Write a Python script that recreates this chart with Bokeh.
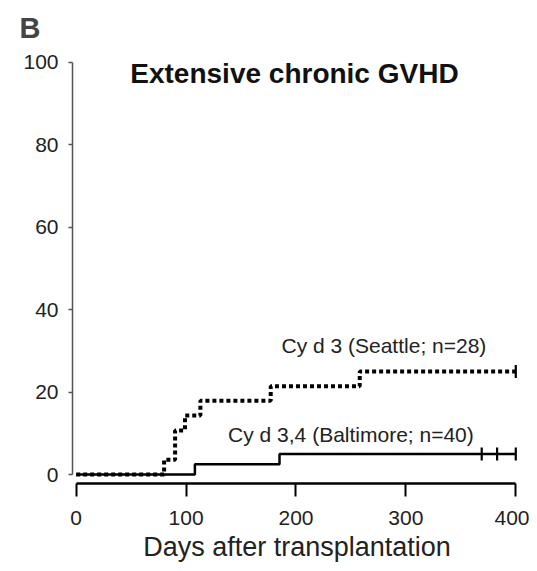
import numpy as np
from bokeh.plotting import figure
from bokeh.models import FixedTicker, Range1d
from bokeh.core.properties import value
from bokeh.embed import file_html
from bokeh.resources import INLINE

# ---- data ----
seattle_days = [0, 80, 90, 99, 113, 177, 258, 400]
seattle_pct = [0.0, 3.6, 10.7, 14.3, 17.9, 21.4, 25.0, 25.0]
seattle_censor_days = [400]
seattle_censor_pct = [25.0]

baltimore_days = [0, 108, 185, 400]
baltimore_pct = [0.0, 2.5, 5.0, 5.0]
baltimore_censor_days = [369, 383, 400]
baltimore_censor_pct = [5.0, 5.0, 5.0]

x_ticks = [0, 100, 200, 300, 400]
y_ticks = [0, 20, 40, 60, 80, 100]

label_texts = ["Cy d 3 (Seattle; n=28)", "Cy d 3,4 (Baltimore; n=40)"]
label_x = [280, 250]
label_y = [31.4, 9.6]

title_text = ["Extensive chronic GVHD"]
title_x = [198.6]
title_y = [97.3]

FONT = "Liberation Sans"

p = figure(frame_width=449, frame_height=430,
           min_border_left=72, min_border_top=53, min_border_right=8, min_border_bottom=5,
           x_range=Range1d(-3.37, 405.2), y_range=Range1d(-2.18, 102.11),
           output_backend="svg", toolbar_location=None, title="B")

p.title.text_font = FONT
p.title.text_font_size = "29px"
p.title.text_font_style = "bold"
p.title.align = "left"
p.title.offset = -53
p.title.standoff = 19

p.outline_line_color = None
p.xgrid.visible = False
p.ygrid.visible = False

# curves
p.step(seattle_days, seattle_pct, mode="after", line_color="black", line_width=4,
       line_dash="4 3")
p.step(baltimore_days, baltimore_pct, mode="after", line_color="black", line_width=2.5)

p.scatter(seattle_censor_days, seattle_censor_pct, marker="dash", angle=np.pi / 2,
          size=13, line_color="black", line_width=2.2)
p.scatter(baltimore_censor_days, baltimore_censor_pct, marker="dash", angle=np.pi / 2,
          size=13, line_color="black", line_width=2.2)

# curve labels
p.text(x=label_x, y=label_y, text=label_texts, text_font=value(FONT),
       text_font_size="21px", text_align="center", text_baseline="alphabetic",
       text_color="#222222")

# panel title
p.text(x=title_x, y=title_y, text=title_text, text_font=value(FONT),
       text_font_size="28px", text_font_style="bold", text_align="center",
       text_baseline="alphabetic", text_color="#111111")

# x axis
xa = p.xaxis[0]
xa.bounds = (0, 400)
xa.ticker = FixedTicker(ticks=x_ticks)
xa.minor_tick_line_color = None
xa.axis_line_width = 2.5
xa.axis_line_color = "black"
xa.major_tick_line_width = 2
xa.major_tick_line_color = "black"
xa.major_tick_out = 13
xa.major_tick_in = 0
xa.major_label_standoff = 14
xa.major_label_text_font = FONT
xa.major_label_text_font_size = "21px"
xa.major_label_text_color = "#222222"
xa.axis_label = "Days after transplantation"
xa.axis_label_text_font = FONT
xa.axis_label_text_font_size = "27px"
xa.axis_label_text_font_style = "normal"
xa.axis_label_text_color = "#222222"
xa.axis_label_standoff = 4

# y axis
ya = p.yaxis[0]
ya.bounds = (0, 100)
ya.ticker = FixedTicker(ticks=y_ticks)
ya.minor_tick_line_color = None
ya.axis_line_width = 1.5
ya.axis_line_color = "#555555"
ya.major_tick_line_width = 1.5
ya.major_tick_line_color = "#555555"
ya.major_tick_out = 4
ya.major_tick_in = 0
ya.major_label_standoff = 10
ya.major_label_text_font = FONT
ya.major_label_text_font_size = "21px"
ya.major_label_text_color = "#222222"

open("out.html", "w").write(file_html(p, INLINE))
